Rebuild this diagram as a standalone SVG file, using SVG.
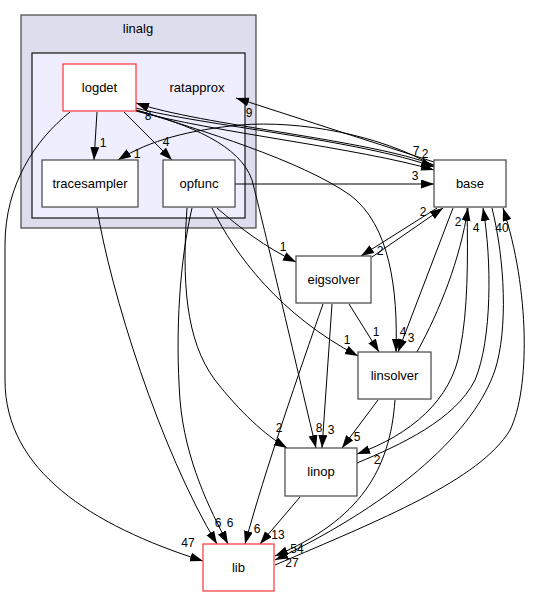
<svg xmlns="http://www.w3.org/2000/svg" width="535" height="597" viewBox="0 0 535 597">
<defs>
<style>
.cl1{fill:#ddddee;stroke:#444;stroke-width:1.2}
.cl2{fill:#eeeeff;stroke:#111;stroke-width:1.2}
.nd rect{fill:#fff;stroke:#444;stroke-width:1.2}
.nd.cur rect{stroke:#ff3333}
text{font-family:"Liberation Sans",Arial,Helvetica,sans-serif;fill:#000}
.nt{font-size:13px;text-anchor:middle}
.el{font-size:12px;text-anchor:middle}
.e path{fill:none;stroke:#000;stroke-width:1;marker-end:url(#ah)}
</style>
<marker id="ah" markerUnits="userSpaceOnUse" markerWidth="14" markerHeight="10" refX="13" refY="4.5" orient="auto">
<path d="M0,0 L13,4.5 L0,9 z" fill="#000"/>
</marker>
</defs>
<rect width="535" height="597" fill="#fff"/>
<g id="cluster_linalg">
<rect class="cl1" x="21" y="15" width="235" height="213"/>
<text class="nt" x="138" y="33">linalg</text>
</g>
<g id="cluster_ratapprox">
<rect class="cl2" x="32" y="53" width="213" height="165"/>
<text class="nt" x="197" y="92">ratapprox</text>
</g>
<g id="connectors" class="e">
<path d="M97,112 L94,160"/>
<text class="el" x="103" y="147">1</text>
<path d="M124,112 L172,160"/>
<text class="el" x="166" y="146">4</text>
<path d="M70,112 C35,140 5,185 5,245 L5,380 C5,470 90,525 203,561"/>
<text class="el" x="188" y="547">47</text>
<path d="M97,208 C110,290 160,450 217,544"/>
<text class="el" x="218" y="527">6</text>
<path d="M192,208 C180,260 175,330 180,400 C185,460 210,510 228,544"/>
<text class="el" x="230" y="527">6</text>
<path d="M187,208 C182,280 185,340 215,380 C240,412 265,435 287,448"/>
<text class="el" x="279" y="432">2</text>
<path d="M217,208 C240,228 265,247 296,262"/>
<text class="el" x="283" y="251">1</text>
<path d="M212,208 C235,255 280,315 358,356"/>
<text class="el" x="347" y="344">1</text>
<path d="M235,184 L434,184"/>
<text class="el" x="415" y="180">3</text>
<path d="M434,162 L236,98"/>
<text class="el" x="249" y="117">9</text>
<path d="M434,166 C380,135 300,120 240,125 C190,130 150,140 118,160"/>
<text class="el" x="137" y="158">1</text>
<path d="M434,165 C370,140 200,125 136,103"/>
<text class="el" x="148" y="120">8</text>
<path d="M136,108 C200,125 360,140 434,167"/>
<path d="M136,111 C210,132 360,148 434,170"/>
<text class="el" x="416" y="155">7</text>
<text class="el" x="425" y="158">2</text>
<path d="M136,110 C190,125 240,145 252,180 C265,230 295,360 316,448"/>
<text class="el" x="319" y="432">8</text>
<path d="M136,110 C200,130 300,160 350,195 C390,225 398,290 396,352"/>
<text class="el" x="403" y="336">4</text>
<path d="M372,257 L443,208"/>
<text class="el" x="423" y="216">2</text>
<path d="M437,208 L361,256"/>
<text class="el" x="380" y="255">2</text>
<path d="M349,304 L379,352"/>
<text class="el" x="376" y="336">1</text>
<path d="M332,304 L322,448"/>
<text class="el" x="331" y="434">3</text>
<path d="M323,304 C300,370 265,470 245,544"/>
<text class="el" x="257" y="533">6</text>
<path d="M453,208 L398,352"/>
<text class="el" x="411" y="342">3</text>
<path d="M417,352 C440,310 460,260 468,208"/>
<text class="el" x="458" y="226">2</text>
<path d="M467,208 C468,260 468,310 460,350 C452,400 410,435 357,454"/>
<text class="el" x="377" y="464">2</text>
<path d="M357,463 C400,445 455,420 475,380 C492,340 492,260 483,208"/>
<text class="el" x="476" y="232">4</text>
<path d="M378,400 L342,448"/>
<text class="el" x="357" y="441">5</text>
<path d="M395,400 C390,470 360,520 275,556"/>
<text class="el" x="297" y="553">54</text>
<path d="M300,497 L260,544"/>
<text class="el" x="278" y="539">13</text>
<path d="M492,208 C505,260 508,330 495,370 C475,430 400,500 275,560"/>
<text class="el" x="292" y="567">27</text>
<path d="M275,565 C380,520 480,480 510,430 C530,390 530,290 503,208"/>
<text class="el" x="502" y="232">40</text>
</g>
<g id="node_logdet" class="nd cur">
<rect x="63" y="64" width="73" height="47"/>
<text class="nt" x="99.5" y="92">logdet</text>
</g>
<g id="node_tracesampler" class="nd">
<rect x="42" y="160" width="96" height="47"/>
<text class="nt" x="90" y="188">tracesampler</text>
</g>
<g id="node_opfunc" class="nd">
<rect x="163" y="160" width="72" height="47"/>
<text class="nt" x="199" y="188">opfunc</text>
</g>
<g id="node_base" class="nd">
<rect x="434" y="160" width="72" height="47"/>
<text class="nt" x="470" y="188">base</text>
</g>
<g id="node_eigsolver" class="nd">
<rect x="296" y="256" width="75" height="47"/>
<text class="nt" x="333.5" y="284">eigsolver</text>
</g>
<g id="node_linsolver" class="nd">
<rect x="358" y="352" width="73" height="47"/>
<text class="nt" x="394.5" y="380">linsolver</text>
</g>
<g id="node_linop" class="nd">
<rect x="285" y="448" width="72" height="48"/>
<text class="nt" x="321" y="476">linop</text>
</g>
<g id="node_lib" class="nd cur">
<rect x="203" y="544" width="71" height="47"/>
<text class="nt" x="238.5" y="572">lib</text>
</g>
</svg>
